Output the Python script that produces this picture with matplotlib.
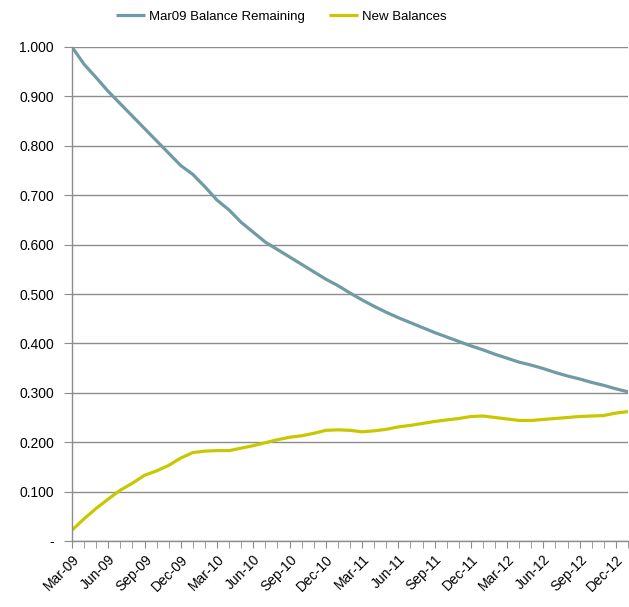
import matplotlib.pyplot as plt
import matplotlib.ticker as mticker
import pandas as pd

# -----------------
# DATA
# -----------------
months = pd.date_range('2009-03-01', periods=47, freq='MS').strftime('%b-%y').tolist()

mar09_remaining = [1.000, 0.965, 0.938, 0.910, 0.885, 0.860, 0.835, 0.810, 0.785, 0.760,
                   0.742, 0.717, 0.690, 0.670, 0.645, 0.625, 0.605, 0.590, 0.575, 0.560,
                   0.545, 0.530, 0.517, 0.502, 0.488, 0.475, 0.463, 0.452, 0.442, 0.432,
                   0.422, 0.413, 0.404, 0.395, 0.387, 0.378, 0.370, 0.362, 0.356, 0.349,
                   0.341, 0.334, 0.328, 0.321, 0.315, 0.308, 0.302]

new_balances = [0.022, 0.045, 0.066, 0.085, 0.103, 0.117, 0.133, 0.142, 0.153, 0.168,
                0.179, 0.182, 0.183, 0.183, 0.188, 0.193, 0.199, 0.205, 0.210, 0.213,
                0.218, 0.224, 0.225, 0.224, 0.221, 0.223, 0.226, 0.231, 0.234, 0.238,
                0.242, 0.245, 0.248, 0.252, 0.253, 0.250, 0.247, 0.244, 0.244, 0.246,
                0.248, 0.250, 0.252, 0.253, 0.254, 0.259, 0.262]

ytick_vals = [0.0, 0.1, 0.2, 0.3, 0.4, 0.5, 0.6, 0.7, 0.8, 0.9, 1.0]

# -----------------
# PLOT
# -----------------
plt.rcParams['font.family'] = ['Liberation Sans', 'DejaVu Sans']
grid_col = '#8c8c8c'

fig = plt.figure(figsize=(6.29, 6.07), dpi=100)
ax = fig.add_axes([72 / 629, 1 - 541 / 607, 556 / 629, 494 / 607])

x = list(range(len(months)))
ax.plot(x, mar09_remaining, color='#6f9ba5', lw=2.3, label='Mar09 Balance Remaining',
        solid_capstyle='butt')
ax.plot(x, new_balances, color='#c9c800', lw=2.3, label='New Balances',
        solid_capstyle='butt')

ax.set_xlim(0, len(months) - 1)
ax.set_ylim(0, 1.0)

ax.set_yticks(ytick_vals)
ax.set_yticklabels(['-' if v == 0 else f'{v:.3f}' for v in ytick_vals])
ax.yaxis.grid(True, color=grid_col, lw=1)
ax.set_axisbelow(True)

ax.set_xticks(x[::3])
ax.set_xticklabels(months[::3], rotation=45, ha='right', rotation_mode='anchor')
ax.xaxis.set_minor_locator(mticker.FixedLocator(x))

for s in ['top', 'right']:
    ax.spines[s].set_visible(False)
for s in ['left', 'bottom']:
    ax.spines[s].set_color(grid_col)
    ax.spines[s].set_linewidth(1)

ax.tick_params(axis='y', length=6, color=grid_col, labelsize=10, pad=7)
ax.tick_params(axis='x', which='both', length=5, color=grid_col, labelsize=10, pad=3)

fig.legend(loc='center', bbox_to_anchor=(0.447, 0.972), ncol=2, frameon=False,
           fontsize=9.5, handlelength=2.2, handletextpad=0.3, columnspacing=1.8)

plt.savefig('out.png', dpi=100)
